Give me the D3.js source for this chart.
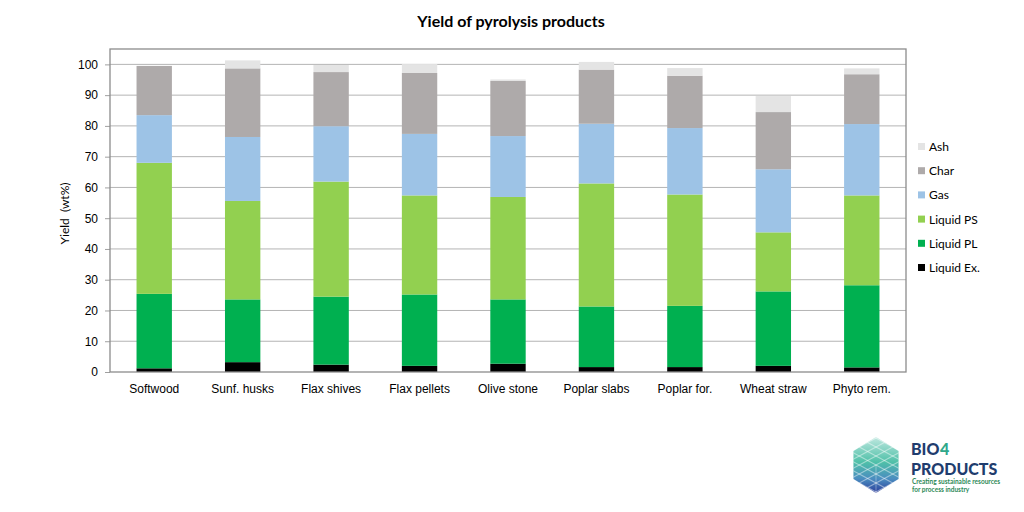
<!DOCTYPE html>
<html>
<head>
<meta charset="utf-8">
<script src="https://cdn.jsdelivr.net/npm/d3@7/dist/d3.min.js"></script>
<style>
  body { margin: 0; background: #fff; }
  svg { font-family: Lato, "Open Sans", sans-serif; }
</style>
</head>
<body>
<svg id="chart" width="1024" height="512"></svg>
<script>
var categories = ['Softwood', 'Sunf. husks', 'Flax shives', 'Flax pellets', 'Olive stone',
                  'Poplar slabs', 'Poplar for.', 'Wheat straw', 'Phyto rem.'];

// stack order bottom -> top
var seriesNames = ['Liquid Ex.', 'Liquid PL', 'Liquid PS', 'Gas', 'Char', 'Ash'];
var liquidEx = [1.2, 3.2, 2.4, 2.0, 2.7, 1.6, 1.6, 2.0, 1.5];
var liquidPL = [24.2, 20.4, 22.1, 23.2, 20.9, 19.7, 19.9, 24.2, 26.7];
var liquidPS = [42.6, 32.0, 37.4, 32.2, 33.3, 40.0, 36.2, 19.2, 29.2];
var gas      = [15.5, 20.8, 18.0, 20.0, 19.8, 19.4, 21.6, 20.5, 23.2];
var charV    = [16.0, 22.3, 17.6, 19.8, 17.9, 17.6, 17.0, 18.6, 16.2];
var ash      = [0.0, 2.6, 2.3, 2.9, 0.5, 2.5, 2.5, 5.2, 1.9];
var yTicks = [0, 10, 20, 30, 40, 50, 60, 70, 80, 90, 100];

var colors = {
    'Liquid Ex.': '#000000',
    'Liquid PL': '#00b050',
    'Liquid PS': '#92d050',
    'Gas': '#9dc3e6',
    'Char': '#aeaaaa',
    'Ash': '#e4e4e4'
};

var seriesValues = [liquidEx, liquidPL, liquidPS, gas, charV, ash];
var rows = categories.map(function(c, i) {
    var r = { cat: c };
    seriesNames.forEach(function(s, k) { r[s] = seriesValues[k][i]; });
    return r;
});

var svg = d3.select('#chart');
var plot = { left: 110, right: 906, top: 49, bottom: 372 };

var x = d3.scaleBand().domain(categories).range([plot.left, plot.right])
    .paddingInner(0.6).paddingOuter(0.3);
var y = d3.scaleLinear().domain([0, 105]).range([plot.bottom, plot.top]);

// title
svg.append('text')
    .attr('x', 511).attr('y', 27)
    .attr('text-anchor', 'middle')
    .style('font-size', '16px').style('font-weight', 'bold')
    .text('Yield of pyrolysis products');

// grid
svg.append('g').selectAll('line').data(yTicks.filter(d => d > 0)).enter()
    .append('line')
    .attr('x1', plot.left).attr('x2', plot.right)
    .attr('y1', d => y(d)).attr('y2', d => y(d))
    .attr('stroke', '#b4b4b4').attr('stroke-width', 1);

// y axis
var yAxis = svg.append('g')
    .attr('transform', 'translate(' + plot.left + ',0)')
    .call(d3.axisLeft(y).tickValues(yTicks).tickSize(5).tickPadding(7));
yAxis.select('.domain').remove();
yAxis.selectAll('line').attr('stroke', '#a0a0a0');
yAxis.selectAll('text').style('font-size', '12px').attr('fill', '#000');

svg.append('text')
    .attr('transform', 'translate(69,' + ((plot.top + plot.bottom) / 2 + 3) + ') rotate(-90)')
    .attr('text-anchor', 'middle')
    .style('font-size', '12px')
    .attr('xml:space', 'preserve')
    .text('Yield  (wt%)');

// bars
var stacked = d3.stack().keys(seriesNames)(rows);
svg.append('g').selectAll('g').data(stacked).enter()
    .append('g').attr('fill', d => colors[d.key])
    .selectAll('rect').data(d => d).enter()
    .append('rect')
    .attr('x', d => x(d.data.cat))
    .attr('width', x.bandwidth())
    .attr('y', d => y(d[1]))
    .attr('height', d => y(d[0]) - y(d[1]));

// frame
svg.append('rect')
    .attr('x', plot.left).attr('y', plot.top)
    .attr('width', plot.right - plot.left).attr('height', plot.bottom - plot.top)
    .attr('fill', 'none').attr('stroke', '#8c8c8c').attr('stroke-width', 1.3);

// x labels
var xAxis = svg.append('g')
    .attr('transform', 'translate(0,' + plot.bottom + ')')
    .call(d3.axisBottom(x).tickSize(0).tickPadding(12));
xAxis.select('.domain').remove();
xAxis.selectAll('text').style('font-size', '12px').attr('fill', '#000');

// legend
var legendOrder = seriesNames.slice().reverse();
var legend = svg.append('g').selectAll('g').data(legendOrder).enter()
    .append('g')
    .attr('transform', (d, i) => 'translate(918,' + (147 + i * 24.2) + ')');
legend.append('rect')
    .attr('x', 0).attr('y', -4).attr('width', 7).attr('height', 7)
    .attr('fill', d => colors[d]);
legend.append('text')
    .attr('x', 11).attr('y', 4)
    .style('font-size', '12px')
    .text(d => d);

// logo
var defs = svg.append('defs');
var grad = defs.append('linearGradient').attr('id', 'cubeGrad')
    .attr('x1', 0).attr('y1', 0).attr('x2', 0).attr('y2', 1);
grad.append('stop').attr('offset', '0%').attr('stop-color', '#bfe8e0');
grad.append('stop').attr('offset', '45%').attr('stop-color', '#4fc0a8');
grad.append('stop').attr('offset', '75%').attr('stop-color', '#4a8cc0');
grad.append('stop').attr('offset', '100%').attr('stop-color', '#2a3d9a');

var logo = svg.append('g').attr('transform', 'translate(876,465)');
var r = 28;
var hex = d3.range(6).map(i => {
    var a = Math.PI / 3 * i - Math.PI / 2;
    return [r * Math.cos(a) * 0.93, r * Math.sin(a)];
});
logo.append('polygon')
    .attr('points', hex.map(p => p.join(',')).join(' '))
    .attr('fill', 'url(#cubeGrad)');
// diamond tiles
var tileLines = [];
for (var k = -3; k <= 3; k++) {
    tileLines.push([[-26, k * 9 - 14], [26, k * 9 + 14]]);
    tileLines.push([[-26, k * 9 + 14], [26, k * 9 - 14]]);
}
logo.append('clipPath').attr('id', 'hexClip')
    .append('polygon').attr('points', hex.map(p => p.join(',')).join(' '));
logo.append('g').attr('clip-path', 'url(#hexClip)')
    .selectAll('line').data(tileLines).enter().append('line')
    .attr('x1', d => d[0][0]).attr('y1', d => d[0][1])
    .attr('x2', d => d[1][0]).attr('y2', d => d[1][1])
    .attr('stroke', '#ffffff').attr('stroke-opacity', 0.45).attr('stroke-width', 1.2);
logo.append('line').attr('x1', 0).attr('y1', 0).attr('x2', 0).attr('y2', r)
    .attr('stroke', '#fff').attr('stroke-opacity', 0.35);

var logoText = svg.append('g').attr('transform', 'translate(911,0)');
var bio = logoText.append('text').attr('x', 0).attr('y', 455)
    .style('font-size', '16px').style('font-weight', '900').attr('fill', '#1f3d6e')
    .text('BIO');
var bioW = bio.node().getComputedTextLength();
logoText.append('text').attr('x', bioW + 0.5).attr('y', 455)
    .style('font-size', '16px').style('font-weight', '900').attr('fill', '#30a88a')
    .text('4');
logoText.append('text').attr('x', 0).attr('y', 474.5)
    .style('font-size', '16px').style('font-weight', '900').attr('fill', '#1f3d6e')
    .text('PRODUCTS');
logoText.append('text').attr('x', 1).attr('y', 484)
    .style('font-size', '6.5px').style('font-weight', 'bold').attr('fill', '#2e8a58')
    .text('Creating sustainable resources');
logoText.append('text').attr('x', 1).attr('y', 491.5)
    .style('font-size', '6.5px').style('font-weight', 'bold').attr('fill', '#2e8a58')
    .text('for process industry');
</script>
</body>
</html>
